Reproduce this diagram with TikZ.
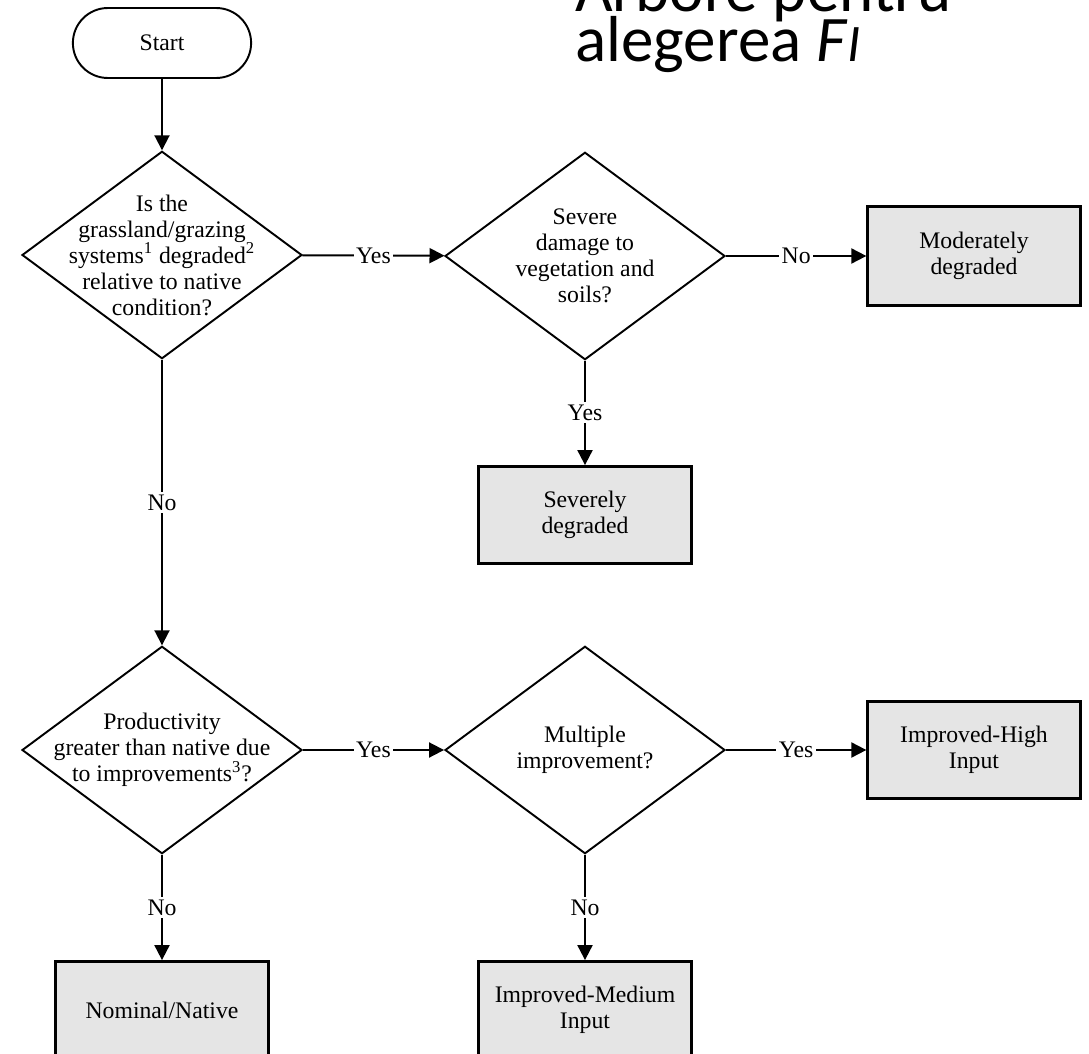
\documentclass[tikz,border=0pt]{standalone}
\usepackage{fontspec}
\setmainfont{Liberation Serif}
\newfontfamily\titlefont{Carlito}
\usepackage{tikz}
\usetikzlibrary{arrows.meta,positioning,shapes.geometric,shapes.misc}
\tikzset{
  >=Triangle,
  every node/.append style={font=\fontsize{13.5}{14.8}\selectfont},
}
\tikzset{
  startbox/.style={draw, rounded rectangle, line width=1.1pt, minimum width=3.8cm, minimum height=1.4cm},
  decision/.style={draw, diamond, line width=1.1pt, minimum width=5.6cm, minimum height=4.15cm, inner sep=0pt},
  qtext/.style={align=center, inner sep=0pt},
  outbox/.style={draw, fill=gray!20, line width=1.6pt, align=center, minimum width=4.25cm, minimum height=1.94cm},
  arrow/.style={-{Triangle[length=0.3cm, width=0.3cm]}, line width=1.1pt},
  lbl/.style={fill=white, inner sep=1.5pt},
  titletext/.style={anchor=base west, inner sep=0pt, font=\titlefont\fontsize{37}{40}\selectfont}
}

\begin{document}
\begin{tikzpicture}[x=0.02cm, y=-0.02cm]
\useasboundingbox (0,0) rectangle (1089,1054);

% Title
\node[titletext] (title1) at (575,12) {Arbore pentru};
\node[titletext] (title2) at (575,62) {alegerea \textit{F}{\fontsize{30}{30}\selectfont\textit{I}}};

% Nodes
\node[startbox] (start) at (162,43) {Start};

\node[decision] (q1) at (162,255) {};
\node[qtext] (q1t) at (q1) {Is the\\grassland/grazing\\systems\textsuperscript{1} degraded\textsuperscript{2}\\relative to native\\condition?};

\node[decision] (q2) at (585,256) {};
\node[qtext] (q2t) at (q2) {Severe\\damage to\\vegetation and\\soils?};

\node[outbox, minimum height=1.98cm] (moderate) at (974,256) {Moderately\\degraded};
\node[outbox] (severe) at (585,515) {Severely\\degraded};

\node[decision] (q3) at (162,750) {};
\node[qtext] (q3t) at (q3) {Productivity\\greater than native due\\to improvements\textsuperscript{3}?};

\node[decision] (q4) at (585,750) {};
\node[qtext] (q4t) at (q4) {Multiple\\improvement?};

\node[outbox] (high) at (974,750) {Improved-High\\Input};
\node[outbox] (nominal) at (162,1010) {Nominal/Native};
\node[outbox] (medium) at (585,1010) {Improved-Medium\\Input};

% Connectors
\draw[arrow] (start) -- (q1);
\draw[arrow] (q1) -- node[lbl] {Yes} (q2);
\draw[arrow] (q2) -- node[lbl] {No} (moderate);
\draw[arrow] (q2) -- node[lbl] {Yes} (severe);
\draw[arrow] (q1) -- node[lbl] {No} (q3);
\draw[arrow] (q3) -- node[lbl] {Yes} (q4);
\draw[arrow] (q4) -- node[lbl] {Yes} (high);
\draw[arrow] (q3) -- node[lbl] {No} (nominal);
\draw[arrow] (q4) -- node[lbl] {No} (medium);
\end{tikzpicture}
\end{document}
